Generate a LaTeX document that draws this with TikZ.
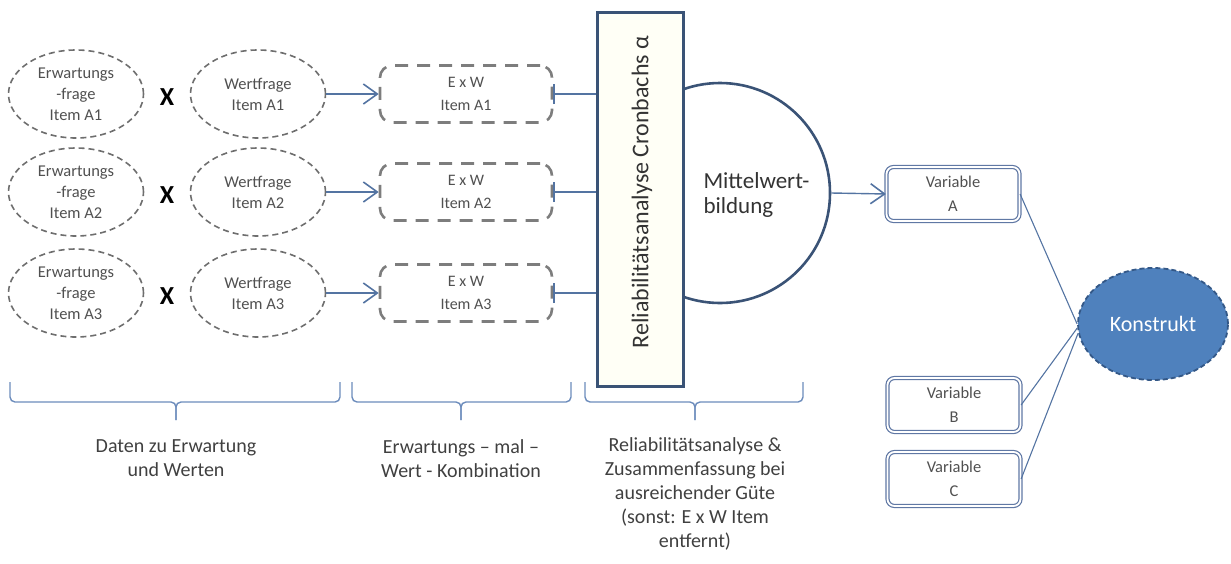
\documentclass[tikz,border=0pt]{standalone}
\usepackage{fontspec}
\setmainfont{Carlito}
\usetikzlibrary{arrows.meta,shapes.geometric}

\definecolor{linegray}{RGB}{110,110,110}
\definecolor{txtgray}{RGB}{80,80,80}
\definecolor{labgray}{RGB}{64,64,64}
\definecolor{conn}{RGB}{84,116,162}
\definecolor{relblue}{RGB}{58,83,118}
\definecolor{relfill}{RGB}{255,255,246}
\definecolor{varblue}{RGB}{96,120,164}
\definecolor{bracecol}{RGB}{108,140,188}
\definecolor{konfill}{RGB}{79,129,189}
\definecolor{konline}{RGB}{52,88,135}

\tikzset{
  questionbox/.style={ellipse, draw=linegray, line width=1.6pt, dash pattern=on 6pt off 4pt,
    minimum width=135pt, minimum height=88pt, inner sep=0pt, align=center,
    text=txtgray, font=\fontsize{16.5}{21}\selectfont},
  timesmark/.style={font=\fontsize{26}{26}\selectfont\bfseries, text=black},
  productbox/.style={rectangle, rounded corners=12pt, draw=linegray!90, line width=2.6pt,
    dash pattern=on 13pt off 9pt, minimum width=172pt, minimum height=57pt,
    align=center, text=txtgray, font=\fontsize{16}{23}\selectfont},
  varbox/.style={rectangle, rounded corners=7pt, draw=varblue, line width=1.2pt,
    double=white, double distance=1.8pt, minimum width=133pt, minimum height=54pt,
    align=center, text=txtgray, font=\fontsize{16.5}{24}\selectfont},
  flowarrow/.style={draw=conn, line width=1.4pt,
    -{Straight Barb[length=14pt,width=20pt,line width=1.6pt]}},
  barlink/.style={draw=conn, line width=1.3pt, {Bar[width=20pt,line width=2pt]}-},
  plainlink/.style={draw=conn, line width=1.1pt},
  bracepath/.style={draw=bracecol, line width=1.4pt, rounded corners=5pt},
  captiontext/.style={align=center, text=labgray, font=\fontsize{20}{24}\selectfont},
}

\begin{document}
\begin{tikzpicture}[x=1pt,y=-1pt]
\useasboundingbox (0,0) rectangle (1231,563);

% expectation and value questions
\foreach \r/\y in {1/94,2/192,3/293}{
  \node[questionbox] (erw\r) at (76,\y) {Erwartungs\\-frage\\Item A\r};
  \node[timesmark] (x\r) at (167,\y+3) {X};
  \node[questionbox] (wert\r) at (258,\y) {Wertfrage\\Item A\r};
  \node[productbox] (exw\r) at (466,\y) {E x W\\Item A\r};
}

% mean circle, partly hidden behind the reliability bar
\node[circle, draw=relblue, line width=2.6pt, minimum size=220pt, inner sep=0pt] (mw) at (720,193) {};
\node[rectangle, draw=relblue, line width=3pt, fill=relfill, minimum width=86pt,
      minimum height=374pt, inner sep=0pt] (rel) at (640,199) {};
\node[rotate=90, text=black!80, font=\fontsize{24}{24}\selectfont] (reltext) at (642,192)
  {Reliabilitätsanalyse Cronbachs α};
\node[anchor=west, align=left, text=black!80, font=\fontsize{23}{25}\selectfont] (mwtext) at (700,195)
  {Mittelwert-\\bildung};

% variables and construct
\node[varbox] (varA) at (953,194) {Variable\\A};
\node[varbox] (varB) at (954,405) {Variable\\B};
\node[varbox] (varC) at (954,479) {Variable\\C};
\node[ellipse, fill=konfill, draw=konline, line width=1.8pt, dash pattern=on 5pt off 3pt,
      minimum width=150pt, minimum height=112pt, inner sep=0pt, text=white,
      font=\fontsize{22}{22}\selectfont] (kon) at (1153,324) {Konstrukt};

% connectors
\foreach \r in {1,2,3}{
  \draw[flowarrow] (wert\r.east) -- (exw\r.west);
  \draw[barlink] (exw\r.east) -- (exw\r.east -| rel.west);
}
\draw[flowarrow] (mw.east) -- (varA.west);
\draw[plainlink] (varA.east) -- (kon.west);
\draw[plainlink] (varB.east) -- (kon.183);
\draw[plainlink] (varC.east) -- (kon.187);

% braces below the three stages
\foreach \n/\a/\m/\b in {1/10/176/340, 2/352/461/571, 3/585/695/803}{
  \coordinate (br\n) at (\m,420);
  \draw[bracepath] (\a,382) -- (\a,402) -- (\m,402) -- (br\n);
  \draw[bracepath] (\b,382) -- (\b,402) -- (\m,402) -- (br\n);
}
\node[captiontext, anchor=north] (cap1) at ([yshift=-16pt]br1) {Daten zu Erwartung\\und Werten};
\node[captiontext, anchor=north] (cap2) at ([yshift=-16pt]br2) {Erwartungs – mal –\\Wert - Kombination};
\node[captiontext, anchor=north] (cap3) at ([yshift=-14pt]br3)
  {Reliabilitätsanalyse \&\\Zusammenfassung bei\\ausreichender Güte\\(sonst: E x W Item\\entfernt)};
\end{tikzpicture}
\end{document}
